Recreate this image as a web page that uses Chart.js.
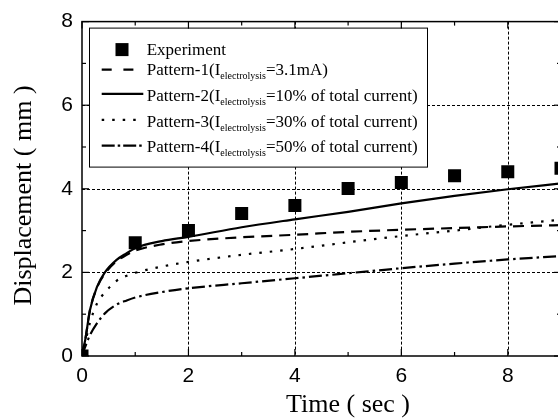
<!DOCTYPE html>
<html><head><meta charset="utf-8">
<script src="https://cdn.jsdelivr.net/npm/chart.js@4.4.1/dist/chart.umd.min.js"></script>
<style>
html,body{margin:0;padding:0;background:#fff;overflow:hidden;}
#wrap{width:558px;height:418px;overflow:hidden;position:relative;background:#fff;}
canvas{display:block;}
</style>
</head><body><div id="wrap"><canvas id="c" width="600" height="418"></canvas></div>
<script>
// ---- data ----
const modelTime = [0, 0.02, 0.06, 0.15, 0.28, 0.43, 0.65, 0.84, 1, 1.5, 2, 3, 4, 5, 6, 7, 8, 9];
const pattern1 = [0, 0.15, 0.38, 1.1, 1.63, 1.97, 2.27, 2.42, 2.52, 2.67, 2.75, 2.84, 2.9, 2.97, 3.02, 3.06, 3.1, 3.13];
const pattern2 = [0, 0.15, 0.38, 1.1, 1.65, 2.0, 2.3, 2.46, 2.58, 2.75, 2.85, 3.08, 3.27, 3.45, 3.65, 3.83, 3.99, 4.13];
const pattern3 = [0, 0.12, 0.32, 0.8, 1.25, 1.52, 1.8, 1.92, 1.99, 2.14, 2.25, 2.42, 2.56, 2.72, 2.87, 3.0, 3.14, 3.26];
const pattern4 = [0, 0.08, 0.22, 0.5, 0.78, 1.02, 1.23, 1.33, 1.4, 1.53, 1.62, 1.74, 1.86, 1.98, 2.1, 2.21, 2.31, 2.39];
const expTime = [0, 1, 2, 3, 4, 5, 6, 7, 8, 9];
const expDisp = [0, 2.71, 3.0, 3.41, 3.6, 4.01, 4.15, 4.31, 4.41, 4.49];
const xTickValues = [0, 2, 4, 6, 8];
const yTickValues = [0, 2, 4, 6, 8];
const xMinorValues = [1, 3, 5, 7, 9];
const yMinorValues = [1, 3, 5, 7];
const xTitle = 'Time ( sec )';
const yTitle = 'Displacement ( mm )';
const legendLabels = [
  {main: 'Experiment', sub: '', rest: ''},
  {main: 'Pattern-1(I', sub: 'electrolysis', rest: '=3.1mA)'},
  {main: 'Pattern-2(I', sub: 'electrolysis', rest: '=10% of total current)'},
  {main: 'Pattern-3(I', sub: 'electrolysis', rest: '=30% of total current)'},
  {main: 'Pattern-4(I', sub: 'electrolysis', rest: '=50% of total current)'}
];

const SERIF = '"Liberation Serif", "Times New Roman", serif';
const SANS = '"Liberation Sans", Arial, sans-serif';
const DASHES = [null, [11, 7], [], [2.5, 8], [13, 4, 2.5, 4]];
const LEGEND_DASHES = [null, [10, 11.7], [], [2.5, 8], [13, 3, 2.5, 3]];

function toXY(xs, ys) { return xs.map((x, i) => ({x: x, y: ys[i]})); }
function lineDs(label, vals, dash) {
  return {label: label, type: 'line', data: toXY(modelTime, vals), borderColor: '#000',
    backgroundColor: '#000', borderWidth: 2.2, borderDash: dash, pointRadius: 0,
    fill: false, cubicInterpolationMode: 'monotone', clip: 0};
}

const gridPlugin = {
  id: 'gridPlugin',
  beforeDatasetsDraw(chart) {
    const ctx = chart.ctx, ca = chart.chartArea, xs = chart.scales.x, ys = chart.scales.y;
    ctx.save();
    ctx.strokeStyle = '#000'; ctx.lineWidth = 1; ctx.setLineDash([3, 2]);
    xTickValues.forEach(v => {
      if (v === 0) return;
      const px = Math.round(xs.getPixelForValue(v)) + 0.5;
      ctx.beginPath(); ctx.moveTo(px, ca.top); ctx.lineTo(px, ca.bottom); ctx.stroke();
    });
    yTickValues.forEach(v => {
      if (v === 0 || v === 8) return;
      const py = Math.round(ys.getPixelForValue(v)) + 0.5;
      ctx.beginPath(); ctx.moveTo(ca.left, py); ctx.lineTo(ca.right, py); ctx.stroke();
    });
    ctx.restore();
  }
};

const legendPlugin = {
  id: 'legendPlugin',
  afterDatasetsDraw(chart) {
    const ctx = chart.ctx, ca = chart.chartArea;
    const L = ca.left, T = ca.top;
    ctx.save();
    ctx.fillStyle = '#fff';
    ctx.fillRect(L + 7.5, T + 6.5, 338, 139);
    ctx.strokeStyle = '#000'; ctx.lineWidth = 1; ctx.setLineDash([]);
    ctx.strokeRect(L + 7.5, T + 6.5, 338, 139);
    const sampleY = [28, 48, 72.3, 98.3, 124];
    const baseY = [33.3, 53.5, 79.3, 105, 130.5];
    const sx0 = L + 19.7, sx1 = L + 61.3, tx = L + 64.7;
    legendLabels.forEach((lab, i) => {
      const sy = T + sampleY[i];
      ctx.fillStyle = '#000';
      if (i === 0) {
        ctx.fillRect(L + 33.5, sy - 6.5, 13, 13);
      } else {
        ctx.beginPath();
        ctx.setLineDash(LEGEND_DASHES[i]);
        ctx.lineWidth = 2.2; ctx.strokeStyle = '#000';
        ctx.moveTo(sx0, sy); ctx.lineTo(sx1, sy); ctx.stroke();
        ctx.setLineDash([]);
      }
      const by = T + baseY[i];
      ctx.textBaseline = 'alphabetic'; ctx.textAlign = 'left';
      ctx.font = '17px ' + SERIF;
      let x = tx;
      ctx.fillText(lab.main, x, by);
      x += ctx.measureText(lab.main).width;
      if (lab.sub) {
        ctx.font = '10px ' + SERIF;
        ctx.fillText(lab.sub, x, by + 4);
        x += ctx.measureText(lab.sub).width;
        ctx.font = '17px ' + SERIF;
        ctx.fillText(lab.rest, x, by);
      }
    });
    ctx.restore();
  }
};

const framePlugin = {
  id: 'framePlugin',
  afterDraw(chart) {
    const ctx = chart.ctx, ca = chart.chartArea, xs = chart.scales.x, ys = chart.scales.y;
    ctx.save();
    ctx.strokeStyle = '#000'; ctx.setLineDash([]);
    ctx.lineWidth = 1.5;
    ctx.strokeRect(ca.left, ca.top, ca.right - ca.left, ca.bottom - ca.top);
    ctx.lineWidth = 1.2;
    const tick = (vals, len) => {
      vals.forEach(v => {
        const px = xs.getPixelForValue(v);
        ctx.beginPath(); ctx.moveTo(px, ca.bottom); ctx.lineTo(px, ca.bottom - len); ctx.stroke();
        ctx.beginPath(); ctx.moveTo(px, ca.top); ctx.lineTo(px, ca.top + len); ctx.stroke();
      });
    };
    const tickY = (vals, len) => {
      vals.forEach(v => {
        const py = ys.getPixelForValue(v);
        ctx.beginPath(); ctx.moveTo(ca.left, py); ctx.lineTo(ca.left + len, py); ctx.stroke();
        ctx.beginPath(); ctx.moveTo(ca.right, py); ctx.lineTo(ca.right - len, py); ctx.stroke();
      });
    };
    tick(xTickValues, 7); tick(xMinorValues, 4);
    tickY(yTickValues, 7); tickY(yMinorValues, 4);
    // axis titles
    ctx.fillStyle = '#000';
    ctx.font = '26px ' + SERIF;
    ctx.textAlign = 'center'; ctx.textBaseline = 'alphabetic';
    ctx.fillText(xTitle, 348, 412);
    ctx.translate(24, 195.5);
    ctx.rotate(-Math.PI / 2);
    ctx.textBaseline = 'middle';
    ctx.fillText(yTitle, 0, 0);
    ctx.restore();
  }
};

new Chart(document.getElementById('c'), {
  type: 'scatter',
  data: {
    datasets: [
      {label: 'Experiment', type: 'scatter', data: toXY(expTime, expDisp), pointStyle: 'rect',
        pointRadius: 9.2, pointBackgroundColor: '#000', pointBorderColor: '#000', pointBorderWidth: 0,
        backgroundColor: '#000', borderColor: '#000', clip: 0},
      lineDs('Pattern-1', pattern1, DASHES[1]),
      lineDs('Pattern-2', pattern2, DASHES[2]),
      lineDs('Pattern-3', pattern3, DASHES[3]),
      lineDs('Pattern-4', pattern4, DASHES[4])
    ]
  },
  options: {
    responsive: false, animation: false, devicePixelRatio: 1,
    layout: {padding: {top: 21, right: 39, left: 0, bottom: 0}},
    plugins: {legend: {display: false}, tooltip: {enabled: false}, title: {display: false}},
    scales: {
      x: {type: 'linear', min: 0, max: 9,
        grid: {display: false, drawTicks: false}, border: {display: false},
        ticks: {stepSize: 2, includeBounds: false, color: '#000', maxRotation: 0, padding: 8,
          font: {family: SANS, size: 21}},
        afterFit(s) { s.height = 62; }},
      y: {type: 'linear', min: 0, max: 8,
        grid: {display: false, drawTicks: false}, border: {display: false},
        ticks: {stepSize: 2, includeBounds: false, color: '#000', padding: 9,
          font: {family: SANS, size: 21}},
        afterFit(s) { s.width = 82; }}
    }
  },
  plugins: [gridPlugin, legendPlugin, framePlugin]
});
</script>
</body></html>
